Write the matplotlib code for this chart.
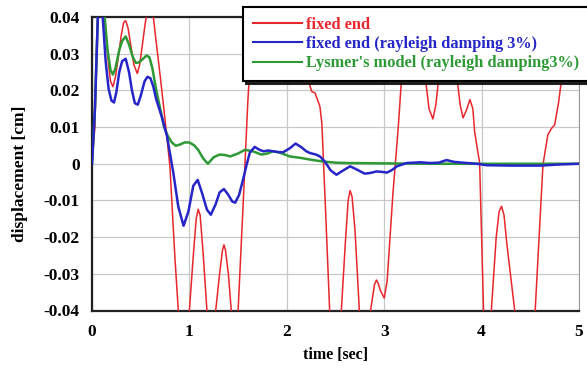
import matplotlib
matplotlib.use('Agg')
import matplotlib.pyplot as plt

# time [sec] / displacement [cm]
t_fixed = [0, 0.03, 0.05, 0.08, 0.11, 0.13, 0.15, 0.17, 0.19, 0.215, 0.24, 0.27, 0.30, 0.325,
           0.346, 0.37, 0.40, 0.43, 0.465, 0.49, 0.52, 0.55, 0.59, 0.63, 0.66, 0.70, 0.75, 0.80,
           0.85, 0.886, 0.94, 1.0, 1.04, 1.07, 1.09, 1.11, 1.14, 1.18, 1.22, 1.27, 1.31, 1.34,
           1.355, 1.37, 1.40, 1.43, 1.465, 1.50, 1.55, 1.60, 1.64, 1.75, 1.90, 2.05, 2.15, 2.22,
           2.255, 2.29, 2.34, 2.36, 2.40, 2.44, 2.50, 2.56, 2.60, 2.63, 2.65, 2.67, 2.70, 2.745,
           2.80, 2.86, 2.90, 2.92, 2.94, 2.96, 3.0, 3.03, 3.06, 3.09, 3.145, 3.18, 3.22, 3.30,
           3.38, 3.42, 3.46, 3.50, 3.53, 3.56, 3.60, 3.66, 3.72, 3.75, 3.78, 3.81, 3.85, 3.88,
           3.91, 3.93, 3.98, 4.02, 4.06, 4.10, 4.15, 4.18, 4.205, 4.23, 4.26, 4.34, 4.45, 4.55,
           4.63, 4.68, 4.72, 4.75, 4.79, 4.82, 4.88, 5.0]
v_fixed = [0, 0.01, 0.035, 0.05, 0.048, 0.040, 0.033, 0.027, 0.0225, 0.021, 0.0235, 0.029, 0.035, 0.0385,
           0.039, 0.037, 0.032, 0.027, 0.0246, 0.027, 0.033, 0.039, 0.043, 0.040, 0.033, 0.024, 0.012, -0.0007,
           -0.025, -0.040, -0.052, -0.040, -0.025, -0.015, -0.0124, -0.014, -0.024, -0.040, -0.048, -0.040, -0.030, -0.0235,
           -0.0221, -0.0235, -0.030, -0.040, -0.045, -0.040, -0.012, 0.017, 0.035, 0.055, 0.058, 0.045, 0.032, 0.0229,
           0.0197, 0.0193, 0.0156, 0.011, -0.014, -0.040, -0.052, -0.040, -0.022, -0.010, -0.0073, -0.009, -0.018, -0.040,
           -0.047, -0.040, -0.033, -0.0317, -0.0327, -0.0345, -0.0366, -0.032, -0.020, -0.008, 0.0102, 0.024, 0.040, 0.052,
           0.040, 0.024, 0.015, 0.0122, 0.016, 0.0234, 0.035, 0.040, 0.030, 0.0229, 0.016, 0.0125, 0.015, 0.0175,
           0.0150, 0.0084, 0.0002, -0.040, -0.050, -0.040, -0.020, -0.013, -0.0116, -0.014, -0.022, -0.040, -0.055, -0.040,
           -0.0003, 0.0079, 0.0097, 0.0106, 0.0166, 0.0229, 0.035, 0.05]

t_damped = [0, 0.03, 0.06, 0.09, 0.11, 0.14, 0.17, 0.20, 0.226, 0.25, 0.28, 0.31, 0.346, 0.38,
            0.41, 0.44, 0.47, 0.50, 0.54, 0.57, 0.60, 0.63, 0.66, 0.72, 0.77, 0.835, 0.886, 0.94,
            0.99, 1.04, 1.085, 1.13, 1.18, 1.22, 1.27, 1.31, 1.355, 1.40, 1.44, 1.47, 1.51, 1.55,
            1.59, 1.62, 1.67, 1.72, 1.76, 1.81, 1.86, 1.91, 1.96, 2.03, 2.09, 2.15, 2.20, 2.24,
            2.30, 2.34, 2.39, 2.45, 2.51, 2.58, 2.65, 2.72, 2.80, 2.86, 2.92, 2.97, 3.03, 3.08,
            3.13, 3.23, 3.37, 3.47, 3.56, 3.64, 3.72, 3.85, 3.95, 4.05, 4.3, 4.6, 4.8, 5.0]
v_damped = [0, 0.015, 0.040, 0.048, 0.040, 0.028, 0.0205, 0.0172, 0.0167, 0.0195, 0.025, 0.0280, 0.0286, 0.025,
            0.020, 0.0165, 0.0161, 0.0185, 0.0225, 0.0237, 0.0233, 0.021, 0.0175, 0.0125, 0.0075, -0.0025, -0.0117, -0.0169,
            -0.013, -0.006, -0.0044, -0.008, -0.0125, -0.0139, -0.011, -0.0078, -0.0069, -0.0085, -0.0103, -0.0106, -0.0085, -0.0044,
            0.0, 0.003, 0.0046, 0.0038, 0.0034, 0.0036, 0.0034, 0.0032, 0.0031, 0.0042, 0.0055, 0.0045, 0.0034, 0.0029,
            0.0025, 0.002, 0.0006, -0.0018, -0.003, -0.0018, -0.0007, -0.0016, -0.0027, -0.0025, -0.0021, -0.0022, -0.0024, -0.0017,
            -0.0007, 0.0002, 0.0004, 0.0002, 0.0003, 0.001, 0.0005, 0.0002, 0.0, -0.0004, -0.0005, -0.0005, -0.0002, 0.0]

t_lysmer = [0, 0.03, 0.06, 0.09, 0.13, 0.16, 0.19, 0.215, 0.24, 0.28, 0.31, 0.346, 0.38, 0.42,
            0.45, 0.48, 0.52, 0.56, 0.59, 0.62, 0.66, 0.70, 0.74, 0.78, 0.82, 0.86, 0.90, 0.95,
            1.0, 1.05, 1.09, 1.14, 1.19, 1.25, 1.31, 1.36, 1.42, 1.50, 1.57, 1.65, 1.74, 1.80,
            1.86, 1.93, 2.03, 2.14, 2.27, 2.37, 2.50, 2.62, 3.0, 3.5, 4.0, 4.5, 5.0]
v_lysmer = [0, 0.015, 0.040, 0.050, 0.040, 0.031, 0.0255, 0.0243, 0.026, 0.031, 0.0335, 0.0347, 0.0325, 0.029,
            0.0275, 0.0276, 0.0285, 0.0295, 0.029, 0.026, 0.020, 0.015, 0.010, 0.0075, 0.0058, 0.0049, 0.0052, 0.0058,
            0.0058, 0.0050, 0.0038, 0.0015, 0.0, 0.0018, 0.0025, 0.0024, 0.002, 0.0028, 0.0038, 0.0034, 0.0025, 0.0028,
            0.0034, 0.003, 0.002, 0.0016, 0.001, 0.0006, 0.0003, 0.0002, 0.0001, 0.0, 0.0, 0.0, 0.0]

x_ticks = [0, 1, 2, 3, 4, 5]
y_ticks = [-0.04, -0.03, -0.02, -0.01, 0, 0.01, 0.02, 0.03, 0.04]
y_labels = ['-0.04', '-0.03', '-0.02', '-0.01', '0', '0.01', '0.02', '0.03', '0.04']

plt.rcParams['font.family'] = ['Liberation Serif', 'DejaVu Serif']
plt.rcParams['font.weight'] = 'bold'

fig = plt.figure(figsize=(5.87, 3.65), dpi=100)
ax = fig.add_axes([92 / 587, 1 - 310.5 / 365, 487 / 587, 293.5 / 365])

l1, = ax.plot(t_fixed, v_fixed, color='#e8262b', lw=1.1, zorder=3)
l3, = ax.plot(t_lysmer, v_lysmer, color='#2e9a35', lw=1.8, zorder=4)
l2, = ax.plot(t_damped, v_damped, color='#2626c8', lw=1.8, zorder=5)

ax.set_xlim(0, 5)
ax.set_ylim(-0.04, 0.04)
ax.set_xticks(x_ticks)
ax.set_yticks(y_ticks)
ax.set_yticklabels(y_labels)
ax.tick_params(axis='y', length=0, labelsize=12.5, pad=9)
ax.tick_params(axis='x', length=0, labelsize=12.5, pad=10)
ax.grid(True, color='#c8c8c8', lw=0.9)
ax.set_axisbelow(True)
for s in ['left', 'bottom', 'top']:
    ax.spines[s].set_linewidth(1.6)
    ax.spines[s].set_color('#222222')
ax.spines['right'].set_color('#999999')

ax.set_xlabel('time [sec]', fontsize=11.5, fontweight='bold', labelpad=5)
ax.set_ylabel('displacement [cm]', fontsize=12.5, fontweight='bold')
ax.yaxis.set_label_coords(-0.132, 0.465)

leg = fig.legend([l1, l2, l3],
                 ['fixed end', 'fixed end (rayleigh damping 3%)', "Lysmer's model (rayleigh damping3%)"],
                 loc='upper left', bbox_to_anchor=(243 / 587, 1 - 7 / 365), borderaxespad=0,
                 fancybox=False, shadow={'color': '#111111', 'alpha': 0.9},
                 prop={'size': 11.8, 'weight': 'bold'},
                 handlelength=3.0, handletextpad=0.25, labelspacing=0.2,
                 borderpad=0.6, framealpha=1)
leg.get_frame().set_edgecolor('black')
leg.get_frame().set_linewidth(1.5)
for txt, ln in zip(leg.get_texts(), [l1, l2, l3]):
    txt.set_color(ln.get_color())
for ln in leg.get_lines():
    ln.set_linewidth(1.5)

fig.savefig('out.png', dpi=100)
